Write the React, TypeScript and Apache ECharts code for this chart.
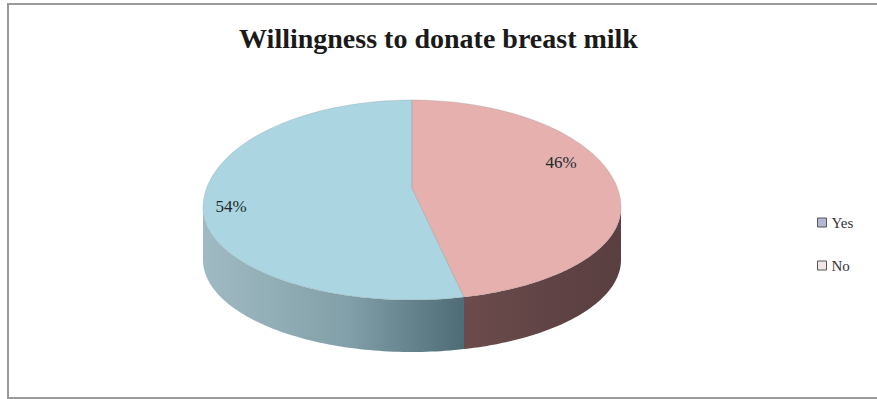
import { useEffect, useRef } from "react";
import * as echarts from "echarts";

const titleText = "Willingness to donate breast milk";
const categories = ["Yes", "No"];
const values = [54, 46];
const topColors = ["#ABD5E0", "#E5B0AE"];
const sideStops = [
  ["#A0BAC3", "#82A0A9", "#4D6C75"],
  ["#6C4B4C", "#604445", "#5A3F40"],
];
const legendColors = ["#B3B7D4", "#F2E6E6"];

// geometry (layout only)
const CX = 412, CY = 208, RX = 209, RY_BACK = 108, RY_FRONT = 92, DEPTH = 52;
const PX = 412, PY = 188;
const labelNudge = [[-11, -7], [-21, -31]];

function pt(deg: number): [number, number] {
  const t = (deg * Math.PI) / 180;
  const c = Math.cos(t);
  const ry = c > 0 ? RY_BACK : RY_FRONT;
  return [CX + RX * Math.sin(t), CY - ry * c];
}

export default function App() {
  const ref = useRef<HTMLDivElement>(null);
  useEffect(() => {
    if (!ref.current) return;
    const chart = echarts.init(ref.current, null, { renderer: "svg" });
    const total = values.reduce((a, b) => a + b, 0);
    // slices go counter-clockwise from 12 o'clock, first category first
    const ranges: [number, number][] = [];
    let end = 360;
    values.forEach((v) => {
      const span = (v / total) * 360;
      ranges.push([end - span, end]);
      end -= span;
    });

    const series = categories.map((name, i) => ({
      type: "custom",
      name,
      coordinateSystem: "none",
      data: [values[i]],
      itemStyle: { color: topColors[i] },
      renderItem: (params: any, api: any) => {
        const v = api.value(0);
        const [a0, a1] = ranges[i];
        const N = 80;
        const children: any[] = [];
        const s0 = Math.max(a0, 90), s1 = Math.min(a1, 270);
        if (s1 > s0) {
          const upper: [number, number][] = [];
          for (let k = 0; k <= N; k++) upper.push(pt(s0 + ((s1 - s0) * k) / N));
          const lower = upper.slice().reverse().map(([x, y]) => [x, y + DEPTH]);
          const xs = upper.map((p) => p[0]);
          const minX = Math.min(...xs), maxX = Math.max(...xs);
          children.push({
            type: "polygon",
            shape: { points: upper.concat(lower as any) },
            style: {
              fill: new echarts.graphic.LinearGradient(
                minX, 0, maxX, 0,
                [
                  { offset: 0, color: sideStops[i][0] },
                  { offset: 0.55, color: sideStops[i][1] },
                  { offset: 1, color: sideStops[i][2] },
                ],
                true
              ),
              stroke: "none",
            },
          });
        }
        const top: [number, number][] = [[PX, PY]];
        for (let k = 0; k <= N; k++) top.push(pt(a0 + ((a1 - a0) * k) / N));
        children.push({
          type: "polygon",
          shape: { points: top },
          style: { fill: topColors[i], stroke: "rgba(120,120,120,0.35)", lineWidth: 0.6 },
        });
        const mid = (a0 + a1) / 2;
        const [mx, my] = pt(mid);
        const f = 0.82;
        children.push({
          type: "text",
          x: PX + (mx - PX) * f + labelNudge[i][0],
          y: PY + (my - PY) * f + labelNudge[i][1],
          style: {
            text: Math.round((v / total) * 100) + "%",
            fill: "#1f2a2e",
            fontSize: 17,
            fontFamily: "Liberation Serif",
            align: "center",
            verticalAlign: "middle",
          },
        });
        return { type: "group", children };
      },
    }));

    chart.setOption({
      animation: false,
      backgroundColor: "#ffffff",
      title: {
        text: titleText,
        left: "center",
        top: 19,
        textStyle: {
          fontFamily: "Liberation Serif",
          fontWeight: "bold",
          fontSize: 28,
          color: "#1a1a1a",
        },
      },
      legend: {
        orient: "vertical",
        left: 812,
        top: 210,
        itemWidth: 9,
        itemHeight: 9,
        itemGap: 28,
        icon: "rect",
        textStyle: { fontFamily: "Liberation Serif", fontSize: 15, color: "#333" },
        data: categories.map((c, i) => ({
          name: c,
          itemStyle: { color: legendColors[i], borderColor: "#555", borderWidth: 1 },
        })),
      },
      graphic: [
        {
          type: "rect",
          shape: { x: 8, y: 4, width: 880, height: 394 },
          style: { fill: "none", stroke: "#9a9a9a", lineWidth: 2 },
          silent: true,
        },
      ],
      series,
    } as any);
    return () => chart.dispose();
  }, []);
  return (
    <div
      ref={ref}
      style={{ position: "absolute", left: 0, top: 0, width: 877, height: 399 }}
    />
  );
}
